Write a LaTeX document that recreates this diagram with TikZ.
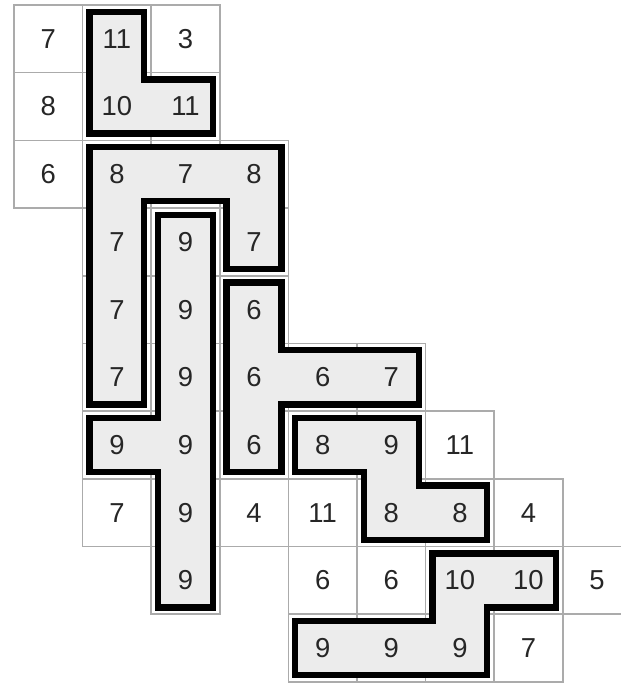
\documentclass[tikz,border=0pt]{standalone}
\usepackage{fontspec}
\setmainfont{Liberation Sans}
\usepackage{tikz}
\definecolor{gridgray}{HTML}{ABABAB}
\definecolor{piecefill}{HTML}{ECECEC}
\definecolor{digitcol}{HTML}{262626}
\tikzset{
  cellbox/.style={draw=gridgray, line width=0.45pt},
  piece/.style={draw=black, fill=piecefill, line width=1.8pt, line join=miter},
  digit/.style={text=digitcol, font=\fontsize{7.8}{9}\selectfont, inner sep=0pt}
}

\begin{document}
\begin{tikzpicture}[x=0.686cm,y=-0.677cm]
\useasboundingbox (-0.204,-0.074) rectangle (8.848,10.03);
\foreach \c/\r/\v in {0/0/7,1/0/11,2/0/3,0/1/8,1/1/10,2/1/11,0/2/6,1/2/8,2/2/7,3/2/8,
  1/3/7,2/3/9,3/3/7,1/4/7,2/4/9,3/4/6,1/5/7,2/5/9,3/5/6,4/5/6,5/5/7,
  1/6/9,2/6/9,3/6/6,4/6/8,5/6/9,6/6/11,1/7/7,2/7/9,3/7/4,4/7/11,5/7/8,6/7/8,7/7/4,
  2/8/9,4/8/6,5/8/6,6/8/10,7/8/10,8/8/5,4/9/9,5/9/9,6/9/9,7/9/7}
  \draw[cellbox] (\c,\r) rectangle ++(1,1);
\draw[piece] (1.1,0.1) -- (1.9,0.1) -- (1.9,1.1) -- (2.9,1.1) -- (2.9,1.9) -- (1.1,1.9) -- cycle;
\draw[piece] (1.1,2.1) -- (3.9,2.1) -- (3.9,3.9) -- (3.1,3.9) -- (3.1,2.9) -- (1.9,2.9) -- (1.9,5.9) -- (1.1,5.9) -- cycle;
\draw[piece] (2.1,3.1) -- (2.9,3.1) -- (2.9,8.9) -- (2.1,8.9) -- (2.1,6.9) -- (1.1,6.9) -- (1.1,6.1) -- (2.1,6.1) -- cycle;
\draw[piece] (3.1,4.1) -- (3.9,4.1) -- (3.9,5.1) -- (5.9,5.1) -- (5.9,5.9) -- (3.9,5.9) -- (3.9,6.9) -- (3.1,6.9) -- cycle;
\draw[piece] (4.1,6.1) -- (5.9,6.1) -- (5.9,7.1) -- (6.9,7.1) -- (6.9,7.9) -- (5.1,7.9) -- (5.1,6.9) -- (4.1,6.9) -- cycle;
\draw[piece] (6.1,8.1) -- (7.9,8.1) -- (7.9,8.9) -- (6.9,8.9) -- (6.9,9.9) -- (4.1,9.9) -- (4.1,9.1) -- (6.1,9.1) -- cycle;
\foreach \c/\r/\v in {0/0/7,1/0/11,2/0/3,0/1/8,1/1/10,2/1/11,0/2/6,1/2/8,2/2/7,3/2/8,
  1/3/7,2/3/9,3/3/7,1/4/7,2/4/9,3/4/6,1/5/7,2/5/9,3/5/6,4/5/6,5/5/7,
  1/6/9,2/6/9,3/6/6,4/6/8,5/6/9,6/6/11,1/7/7,2/7/9,3/7/4,4/7/11,5/7/8,6/7/8,7/7/4,
  2/8/9,4/8/6,5/8/6,6/8/10,7/8/10,8/8/5,4/9/9,5/9/9,6/9/9,7/9/7}
  \node[digit] (n-\c-\r) at (\c+0.5,\r+0.5) {\v};
\end{tikzpicture}
\end{document}
